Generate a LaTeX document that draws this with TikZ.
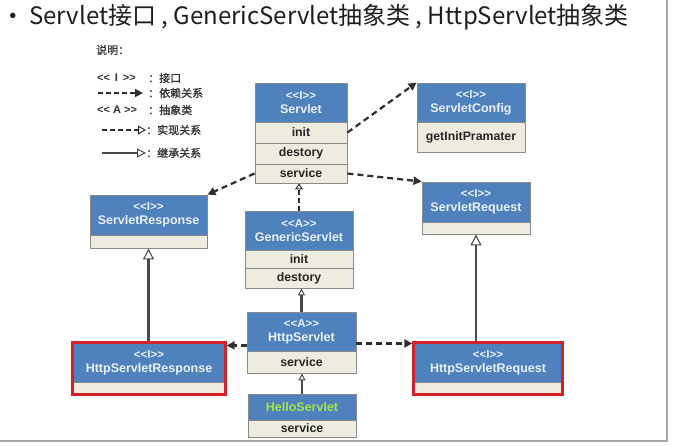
\documentclass[tikz,border=0pt]{standalone}
\usepackage{fontspec}
\setmainfont{Liberation Sans}
\newfontfamily\cjk{Noto Sans CJK SC}
\newfontfamily\cjkb[FakeBold=1.2]{Noto Sans CJK SC}
\usetikzlibrary{arrows.meta,calc,fit}
\definecolor{hblue}{HTML}{4F81BD}
\definecolor{boxgray}{HTML}{8A8A8A}
\definecolor{rowbg}{HTML}{EEECE1}
\definecolor{htext}{HTML}{E8F0FA}
\definecolor{rowtext}{HTML}{262626}
\definecolor{linec}{HTML}{2E2E2E}
\definecolor{inhc}{HTML}{4A4A4A}
\definecolor{redb}{HTML}{D42027}
\definecolor{hellog}{HTML}{A6E34A}
\definecolor{framec}{HTML}{A6A6A6}
\definecolor{titlec}{HTML}{1E1E1E}
\definecolor{legc}{HTML}{333333}
\tikzset{
  hdr/.style={draw=boxgray, fill=hblue, text=htext, font=\bfseries\fontsize{12.5}{14}\selectfont,
    align=center, inner sep=0pt, line width=0.9pt},
  rowbox/.style={draw=boxgray, fill=rowbg, text=rowtext, font=\bfseries\fontsize{12.3}{14}\selectfont,
    inner sep=0pt, line width=0.9pt},
  redframe/.style={draw=redb, line width=2.4pt, inner sep=0pt},
  dep/.style={draw=linec, line width=2.2pt, dash pattern=on 6pt off 4pt, -{Triangle[length=8pt,width=8pt]}},
  real/.style={draw=linec, line width=1.8pt, dash pattern=on 5pt off 3pt, -{Triangle[open,length=6pt,width=8pt,fill=white,line width=1pt]}},
  inh/.style={draw=inhc, line width=2.2pt, -{Triangle[open,length=11pt,width=11pt,fill=white,line width=1.1pt]}},
  legtxt/.style={text=legc, font=\bfseries\fontsize{11}{12}\selectfont, inner sep=0pt},
  legcjk/.style={text=legc, font=\cjkb\fontsize{11}{12}\selectfont, inner sep=0pt},
}
\newcommand{\stereo}[1]{{\fontsize{11.5}{12}\selectfont <{}<#1>{}>}}
\begin{document}
\begin{tikzpicture}[x=1pt,y=-1pt]
\useasboundingbox (0,0) rectangle (678,445);
% frame
\draw[framec, line width=1.3pt] (667,0) -- (667,441) -- (0,441);
% title
\node[text=titlec, font=\fontsize{20}{22}\selectfont] (bullet) at (13,18) {•};
\node[anchor=west, text=titlec, font=\cjk\fontsize{24}{26}\selectfont, inner sep=0pt] (title) at (29,17)
  {Servlet接口 , GenericServlet抽象类 , HttpServlet抽象类};
% legend
\node[legcjk, anchor=west] (lgtitle) at (96,50) {说明：};
\node[legtxt, anchor=west] (lgI) at (97,78) {<{}<\,\ I\ \,>{}>};
\node[legcjk, anchor=west] (lgIt) at (148,78) {：接口};
\coordinate (d1a) at (98,93); \coordinate (d1b) at (143,93);
\draw[dep, line width=1.8pt, dash pattern=on 5pt off 3pt] (d1a) -- (d1b);
\node[legcjk, anchor=west] (lgDt) at (148,93) {：依赖关系};
\node[legtxt, anchor=west] (lgA) at (97,110) {<{}<\ A\ >{}>};
\node[legcjk, anchor=west] (lgAt) at (148,110) {：抽象类};
\coordinate (r1a) at (102,130); \coordinate (r1b) at (146,130);
\draw[real, -{Triangle[open,length=8pt,width=9pt,fill=white,line width=1pt]}] (r1a) -- (r1b);
\node[legcjk, anchor=west] (lgRt) at (146,130) {：实现关系};
\coordinate (i1a) at (102,153); \coordinate (i1b) at (146,153);
\draw[inh, line width=1.8pt, -{Triangle[open,length=9pt,width=9pt,fill=white,line width=1pt]}] (i1a) -- (i1b);
\node[legcjk, anchor=west] (lgIht) at (146,153) {：继承关系};

% Servlet
\node[hdr, minimum width=92pt, minimum height=39pt] (servlet) at (301,102.5) {\stereo{I}\\[0pt]Servlet};
\node[rowbox, minimum width=92pt, minimum height=21pt] (servlet-init) at (301,132.5) {init};
\node[rowbox, minimum width=92pt, minimum height=21pt] (servlet-destory) at (301,153.5) {destory};
\node[rowbox, minimum width=92pt, minimum height=19pt] (servlet-service) at (301,173.5) {service};
% ServletConfig
\node[hdr, minimum width=108pt, minimum height=39pt] (sconfig) at (471,102.5) {\stereo{I}\\[0pt]ServletConfig};
\node[rowbox, minimum width=108pt, minimum height=30pt] (sconfig-row) at (471,137) {getInitPramater};
% ServletResponse
\node[hdr, minimum width=117pt, minimum height=40pt] (sresp) at (148.5,215) {\stereo{I}\\[0pt]ServletResponse};
\node[rowbox, minimum width=117pt, minimum height=13pt] (sresp-row) at (148.5,241.5) {};
% ServletRequest
\node[hdr, minimum width=108pt, minimum height=40pt] (sreq) at (476,202) {\stereo{I}\\[0pt]ServletRequest};
\node[rowbox, minimum width=108pt, minimum height=12pt] (sreq-row) at (476,228) {};
% GenericServlet
\node[hdr, minimum width=108pt, minimum height=39pt] (generic) at (299,230.5) {\stereo{A}\\[0pt]GenericServlet};
\node[rowbox, minimum width=108pt, minimum height=18pt] (generic-init) at (299,259) {init};
\node[rowbox, minimum width=108pt, minimum height=20pt] (generic-destory) at (299,278) {destory};
% HttpServlet
\node[hdr, minimum width=109pt, minimum height=39pt] (http) at (301.5,331.5) {\stereo{A}\\[0pt]HttpServlet};
\node[rowbox, minimum width=109pt, minimum height=22pt] (http-service) at (301.5,362) {service};
% HttpServletResponse
\node[hdr, minimum width=152pt, minimum height=39pt] (hresp) at (149,362.5) {\stereo{I}\\[0pt]HttpServletResponse};
\node[rowbox, minimum width=152pt, minimum height=12pt] (hresp-row) at (149,388) {};
\node[redframe, fit=(hresp)(hresp-row)] (hresp-frame) {};
% HttpServletRequest
\node[hdr, minimum width=148pt, minimum height=39pt] (hreq) at (488,362.5) {\stereo{I}\\[0pt]HttpServletRequest};
\node[rowbox, minimum width=148pt, minimum height=12pt] (hreq-row) at (488,388) {};
\node[redframe, fit=(hreq)(hreq-row)] (hreq-frame) {};
% HelloServlet
\node[hdr, text=hellog, minimum width=108pt, minimum height=26pt] (hello) at (302,407) {HelloServlet};
\node[rowbox, minimum width=108pt, minimum height=17pt] (hello-service) at (302,428.5) {service};

% connectors
\draw[dep] (servlet-init.east) -- (sconfig.north west);
\draw[dep] (servlet-service.west) -- (sresp.north east);
\draw[dep] (servlet-service.east) -- (sreq.north west);
\draw[real] (generic.north) -- (generic.north |- servlet-service.south);
\draw[inh, -{Triangle[open,length=7pt,width=7pt,fill=white,line width=1pt]}] (http.north) -- (http.north |- generic-destory.south);
\draw[inh, -{Triangle[open,length=7pt,width=7pt,fill=white,line width=1pt]}] (hello.north) -- (hello.north |- http-service.south);
\draw[inh] (hresp-frame.north -| sresp-row.south) -- (sresp-row.south);
\draw[inh] (hreq-frame.north -| sreq-row.south) -- (sreq-row.south);
\draw[dep] ([yshift=6pt]http.south west) -- ([yshift=6pt]http.south west -| hresp-frame.east);
\draw[dep] ([yshift=8pt]http.south east) -- ([yshift=8pt]http.south east -| hreq-frame.west);
\end{tikzpicture}
\end{document}
